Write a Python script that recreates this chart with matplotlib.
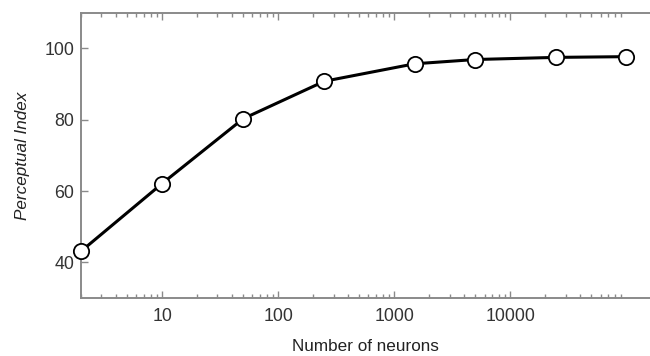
import numpy as np
import matplotlib.pyplot as plt
from matplotlib.ticker import FixedLocator, NullFormatter

# data
neurons = [2, 10, 50, 250, 1500, 5000, 25000, 100000]
perceptual_index = [43.1, 62.1, 80.3, 90.8, 95.7, 96.9, 97.5, 97.7]

xtick_vals = [10, 100, 1000, 10000]
xtick_labels = ['10', '100', '1000', '10000']
ytick_vals = [40, 60, 80, 100]

plt.rcParams['font.family'] = ['Liberation Sans', 'DejaVu Sans']

fig = plt.figure(figsize=(6.5, 3.56), dpi=100)
ax = fig.add_axes([0.1246, 0.163, 0.8754, 0.801])

ax.plot(neurons, perceptual_index, color='black', linewidth=2.2, marker='o',
        markersize=11, markerfacecolor='white', markeredgecolor='black',
        markeredgewidth=1.3, clip_on=False, zorder=3)

ax.set_xscale('log')
ax.set_xlim(2, 1.6e5)
ax.set_ylim(30, 110)

minor = [m * 10 ** d for d in range(0, 5) for m in range(2, 10)]
ax.xaxis.set_major_locator(FixedLocator(xtick_vals))
ax.xaxis.set_minor_locator(FixedLocator(minor))
ax.set_xticklabels(xtick_labels)
ax.xaxis.set_minor_formatter(NullFormatter())
ax.set_yticks(ytick_vals)

spine_col = '#8a8a8a'
for s in ['left', 'bottom', 'top']:
    ax.spines[s].set_color(spine_col)
    ax.spines[s].set_linewidth(1.4)
ax.spines['right'].set_visible(False)

ax.tick_params(which='both', direction='in', top=True, right=False,
               color=spine_col, labelsize=12.8, labelcolor='#333333')
ax.tick_params(which='major', length=5, width=1)
ax.tick_params(which='minor', length=3, width=1)
ax.tick_params(axis='x', pad=7)
ax.tick_params(axis='y', pad=5)

ax.set_xlabel('Number of neurons', fontsize=12.3, color='#222222', labelpad=10)
ax.set_ylabel('Perceptual Index', fontsize=12.3, color='#222222', style='italic', labelpad=10)

plt.savefig('out.png', dpi=100)
